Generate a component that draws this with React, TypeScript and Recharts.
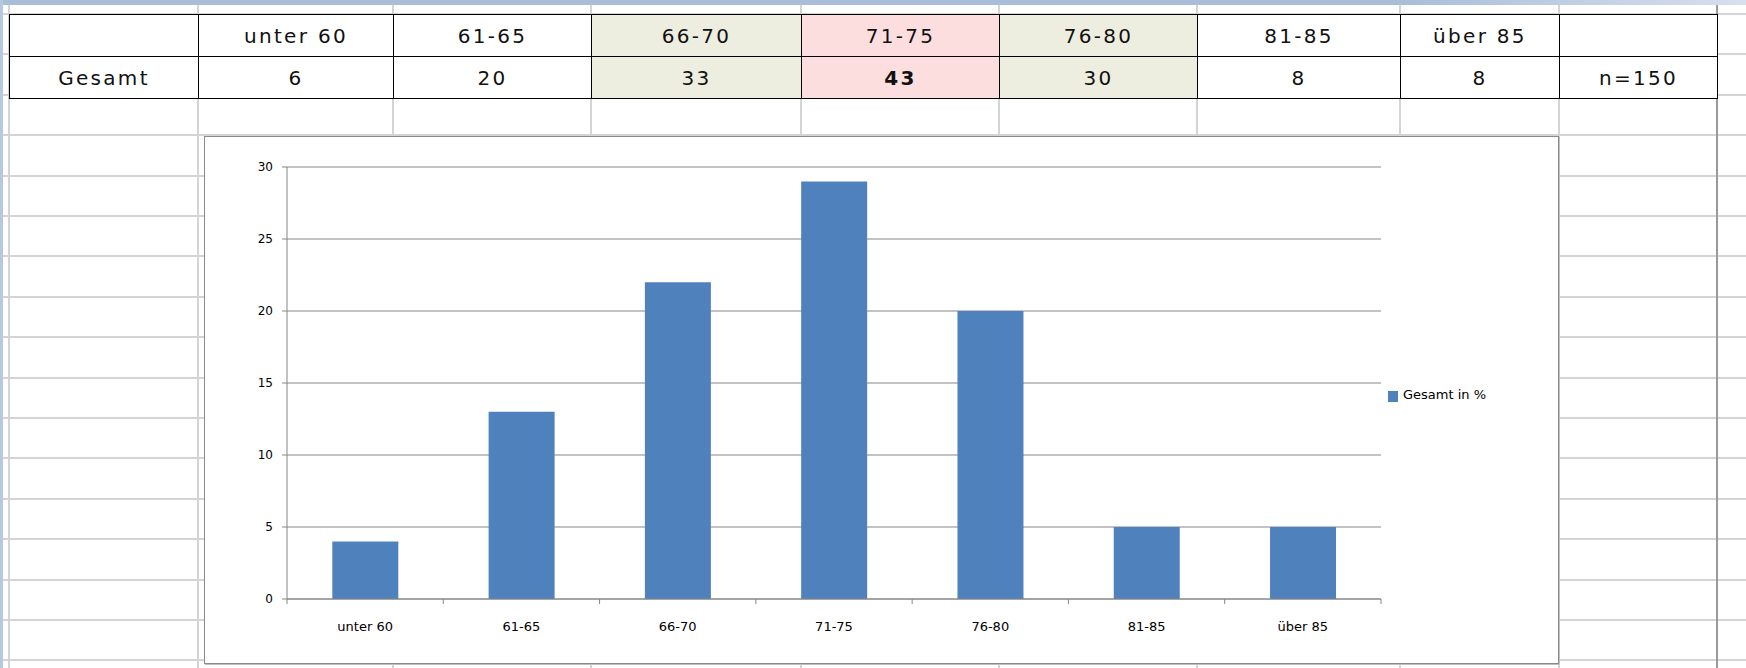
import { BarChart, Bar, XAxis, YAxis, CartesianGrid, Legend } from "recharts";

// age groups and counts from the sheet
const categories = ["unter 60", "61-65", "66-70", "71-75", "76-80", "81-85", "über 85"];
const counts = [6, 20, 33, 43, 30, 8, 8];
const percents = [4, 13, 22, 29, 20, 5, 5];
const yTicks = [0, 5, 10, 15, 20, 25, 30];
const rowLabel = "Gesamt";
const totalLabel = "n=150";
const seriesName = "Gesamt in %";

const cellFill: Record<string, string> = {
  "66-70": "#EEEEE0",
  "71-75": "#FDDEDE",
  "76-80": "#EEEEE0",
};
const boldCategory = "71-75";

const BAR = "#4F81BD";
const AXIS = "#868686";
const FONT = "'DejaVu Sans', Verdana, sans-serif";

// sheet layout
const colEdges = [9, 198, 393, 591, 801, 999, 1197, 1400, 1559, 1717];
const rowTop = 14;
const rowH = 41;
const sheetRowH = 40.4;

const chartData = categories.map((c, i) => ({ category: c, value: percents[i] }));

const CategoryTick = (props: any) => {
  const { x, y, payload, index } = props;
  const half = payload?.offset || 1094 / categories.length / 2;
  return (
    <g>
      <line x1={x - half} x2={x - half} y1={y} y2={y + 5} stroke={AXIS} />
      {index === categories.length - 1 && (
        <line x1={x + half} x2={x + half} y1={y} y2={y + 5} stroke={AXIS} />
      )}
      <text
        x={x}
        y={y + 27}
        textAnchor="middle"
        dominantBaseline="central"
        fontSize={13}
        fontFamily={FONT}
        fill="#000"
      >
        {payload.value}
      </text>
    </g>
  );
};

const LegendContent = (props: any) => {
  const items = props.payload || [];
  return (
    <div style={{ fontFamily: FONT, fontSize: 13, color: "#000" }}>
      {items.map((it: any, i: number) => (
        <div key={i} style={{ display: "flex", alignItems: "center" }}>
          <span
            style={{
              display: "inline-block",
              width: 10,
              height: 11,
              background: it.color,
              marginRight: 5,
              marginTop: 4,
            }}
          />
          <span>{it.value}</span>
        </div>
      ))}
    </div>
  );
};

export default function App() {
  const sheetRows: number[] = [];
  for (let y = rowTop; y < 668; y += sheetRowH) sheetRows.push(y);

  const cell = (text: string, key: string, fill?: string, bold?: boolean) => (
    <td
      key={key}
      style={{
        border: "1.5px solid #000",
        background: fill || "#fff",
        textAlign: "center",
        padding: 0,
        height: rowH,
        fontWeight: bold ? "bold" : "normal",
      }}
    >
      {text}
    </td>
  );

  return (
    <div
      style={{
        position: "fixed",
        left: 0,
        top: 0,
        width: 1746,
        height: 668,
        overflow: "hidden",
        background: "#fff",
      }}
    >
      {/* sheet gridlines */}
      {sheetRows.map((y, i) => (
        <div
          key={"h" + i}
          style={{ position: "absolute", left: 0, top: y - 1, width: 1746, height: 2, background: "#d4d4d4" }}
        />
      ))}
      {colEdges.map((x, i) => (
        <div
          key={"v" + i}
          style={{
            position: "absolute",
            left: x - 1,
            top: 0,
            width: 2,
            height: 668,
            background: i === colEdges.length - 1 ? "#9a9a9a" : "#d4d4d4",
          }}
        />
      ))}
      <div
        style={{
          position: "absolute",
          left: 0,
          top: 0,
          width: 1746,
          height: 5,
          background: "linear-gradient(to right, #a9bdd9 0%, #a9bdd9 80%, #d6e0ee 100%)",
        }}
      />
      <div style={{ position: "absolute", left: 0, top: 0, width: 3, height: 668, background: "#b7c8df" }} />

      {/* data table */}
      <table
        style={{
          position: "absolute",
          left: colEdges[0],
          top: rowTop,
          width: colEdges[colEdges.length - 1] - colEdges[0],
          borderCollapse: "collapse",
          tableLayout: "fixed",
          fontFamily: FONT,
          fontSize: 20,
          letterSpacing: 2.3,
          color: "#111",
        }}
      >
        <colgroup>
          {colEdges.slice(1).map((x, i) => (
            <col key={i} style={{ width: x - colEdges[i] }} />
          ))}
        </colgroup>
        <tbody>
          <tr>
            {cell("", "h0")}
            {categories.map((c) => cell(c, "h" + c, cellFill[c]))}
            {cell("", "hend")}
          </tr>
          <tr>
            {cell(rowLabel, "r0")}
            {categories.map((c, i) => cell(String(counts[i]), "r" + c, cellFill[c], c === boldCategory))}
            {cell(totalLabel, "rend")}
          </tr>
        </tbody>
      </table>

      {/* chart object */}
      <div
        style={{
          position: "absolute",
          left: 204,
          top: 136,
          width: 1355,
          height: 528,
          boxSizing: "border-box",
          background: "#fff",
          border: "1px solid #8a8a8a",
          boxShadow: "1px 1px 0 #c0c0c0",
        }}
      >
        <BarChart
          width={1353}
          height={526}
          data={chartData}
          margin={{ top: 30, right: 177, left: 0, bottom: 0 }}
          barCategoryGap="29%"
        >
          <CartesianGrid vertical={false} stroke={AXIS} strokeDasharray="" />
          <XAxis
            dataKey="category"
            height={64}
            interval={0}
            tickLine={false}
            tickSize={0}
            tickMargin={0}
            axisLine={{ stroke: AXIS }}
            tick={<CategoryTick />}
          />
          <YAxis
            width={82}
            domain={[0, 30]}
            ticks={yTicks}
            interval={0}
            tickSize={5}
            tickMargin={9}
            axisLine={{ stroke: AXIS }}
            tickLine={{ stroke: AXIS }}
            tick={{ fill: "#000", fontSize: 12, fontFamily: FONT }}
          />
          <Legend
            layout="horizontal"
            align="center"
            verticalAlign="middle"
            content={<LegendContent />}
            wrapperStyle={{ position: "absolute", left: 1183, top: 250, width: 140 }}
          />
          <Bar dataKey="value" name={seriesName} fill={BAR} isAnimationActive={false} />
        </BarChart>
      </div>
    </div>
  );
}
